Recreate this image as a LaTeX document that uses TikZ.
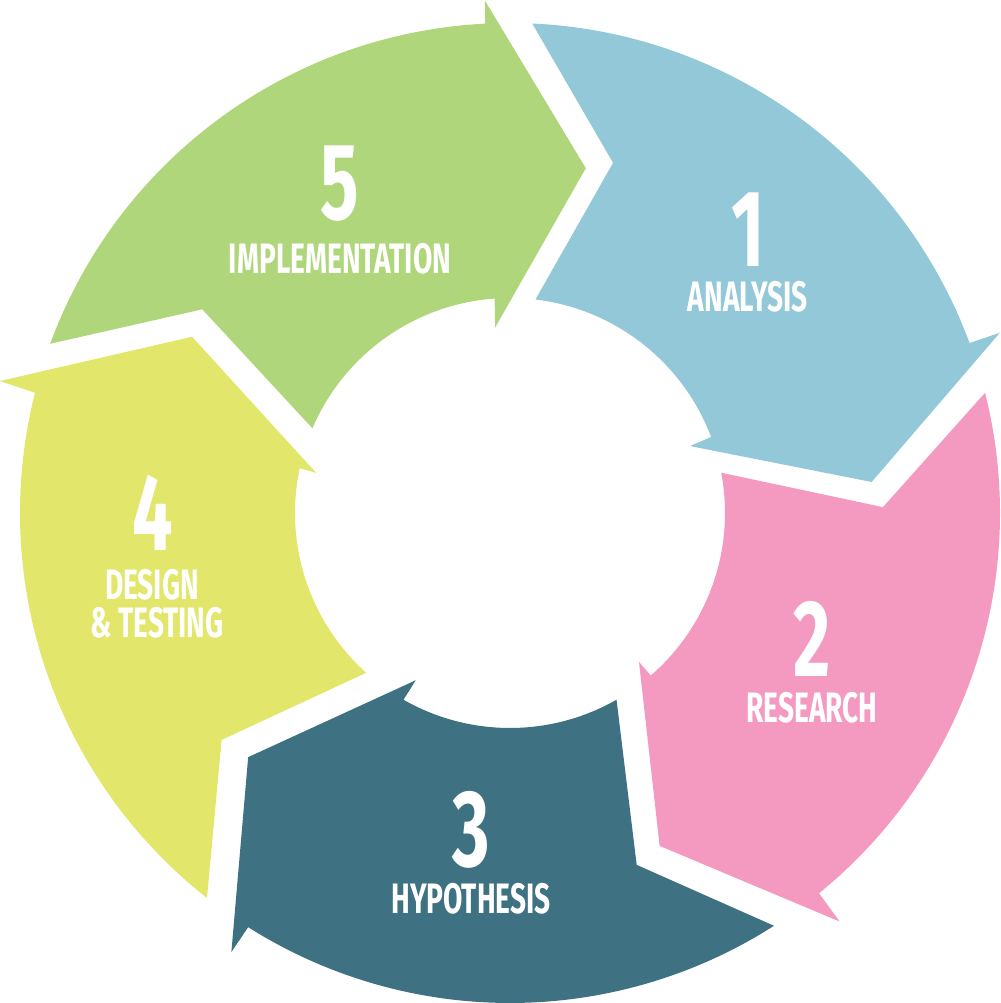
\documentclass[tikz,border=0pt]{standalone}
\usepackage{fontspec}
\usepackage{tikz}
\newfontfamily\cyclefont{Fira Sans}[FakeStretch=0.66]
\definecolor{stepgreen}{HTML}{B0D67C}
\definecolor{stepblue}{HTML}{92C8D7}
\definecolor{steppink}{HTML}{F49AC1}
\definecolor{stepteal}{HTML}{3E7181}
\definecolor{stepyellow}{HTML}{E2E66A}

\begin{document}
\begin{tikzpicture}[
    num/.style={text=white, inner sep=0pt, anchor=base, text height=21pt, text depth=0pt,
        font=\cyclefont\bfseries\fontsize{31}{31}\selectfont},
    lab/.style={text=white, inner sep=0pt, anchor=base, text height=8pt, text depth=0pt,
        font=\cyclefont\bfseries\fontsize{12.1}{12.1}\selectfont}]
    \useasboundingbox (-5.10,-4.90) rectangle (4.90,5.13);
    % 5 implementation
    \fill[stepgreen] (159.8:4.90) arc[start angle=159.8, end angle=92.9, radius=4.90] -- (92.8:5.13) -- (77.6:3.53)
        -- (94.6:1.86) -- (94.1:2.15) arc[start angle=94.1, end angle=156.8, radius=2.15] -- (146.5:3.69) -- cycle;
    % 1 analysis
    \fill[stepblue] (87.4:4.90) arc[start angle=87.4, end angle=20.3, radius=4.90] -- (20.2:5.22) -- (4.9:3.63)
        -- (20.4:1.92) -- (20.7:2.15) arc[start angle=20.7, end angle=83.2, radius=2.15] -- (73.6:3.65) -- cycle;
    % 2 research
    \fill[steppink] (14.2:4.90) arc[start angle=14.2, end angle=-50.9, radius=4.90] -- (-51.1:5.25) -- (-65.8:3.65)
        -- (-49.1:1.97) -- (-49.1:2.15) arc[start angle=-49.1, end angle=10.8, radius=2.15] -- (0.9:3.73) -- cycle;
    % 3 hypothesis
    \fill[stepteal] (-57.4:4.90) arc[start angle=-57.4, end angle=-122.3, radius=4.90] -- (-122.4:5.20) -- (-137:3.58)
        -- (-119.4:1.92) -- (-119.7:2.15) arc[start angle=-119.7, end angle=-60.3, radius=2.15] -- (-70.2:3.74) -- cycle;
    % 4 design & testing
    \fill[stepyellow] (-128.2:4.90) arc[start angle=-128.2, end angle=-194.2, radius=4.90] -- (-194.5:5.27) -- (-209:3.635)
        -- (-191.7:1.98) -- (-192:2.15) arc[start angle=-192, end angle=-132, radius=2.15] -- (-141.8:3.67) -- cycle;
    % numbers and labels
    \node[num] (num5) at (-1.70,2.93) {5};
    \node[lab] (lab5) at (-1.70,2.39) {IMPLEMENTATION};
    \node[num] (num1) at (2.38,2.46) {1};
    \node[lab] (lab1) at (2.38,2.01) {ANALYSIS};
    \node[num] (num2) at (3.02,-1.64) {2};
    \node[lab] (lab2) at (3.02,-2.10) {RESEARCH};
    \node[num] (num3) at (-0.39,-3.54) {3};
    \node[lab] (lab3) at (-0.39,-4.00) {HYPOTHESIS};
    \node[num] (num4) at (-3.57,-0.38) {4};
    \node[lab] (lab4a) at (-3.58,-0.87) {DESIGN};
    \node[lab] (lab4b) at (-3.53,-1.25) {\& TESTING};
\end{tikzpicture}
\end{document}
